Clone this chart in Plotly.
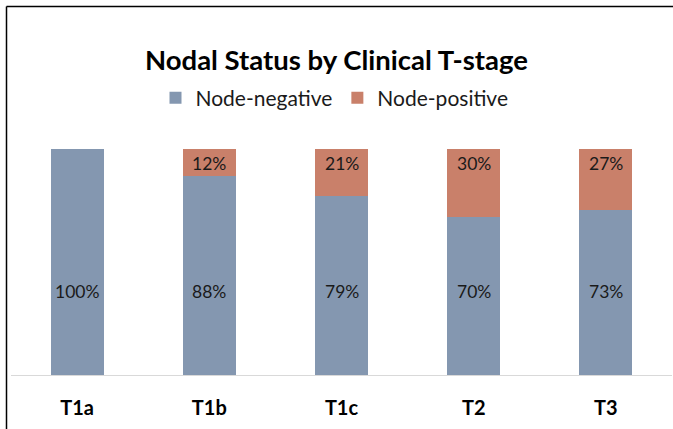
import plotly.graph_objects as go

categories = ["T1a", "T1b", "T1c", "T2", "T3"]
node_negative = [100, 88, 79, 70, 73]
node_positive = [0, 12, 21, 30, 27]

neg_color = "#8497B0"
pos_color = "#C9806A"
FONT = "Lato"

W, H = 673, 429
ml, mr, mt, mb = 11, 1, 149, 54
pw = W - ml - mr
ph = H - mt - mb

fig = go.Figure()
fig.add_trace(go.Bar(
    name="Node-negative", x=categories, y=node_negative,
    marker=dict(color=neg_color, line=dict(width=0)),
    hoverinfo="skip",
))
fig.add_trace(go.Bar(
    name="Node-positive", x=categories, y=node_positive,
    marker=dict(color=pos_color, line=dict(width=0)),
    hoverinfo="skip",
))

# data labels
for c, v in zip(categories, node_negative):
    fig.add_annotation(x=c, y=37, text=f"{v}%", showarrow=False,
                       font=dict(family=FONT, size=17.5, color="#1a1a1a"))
for c, v in zip(categories, node_positive):
    if v > 0:
        fig.add_annotation(x=c, y=100, yshift=-14, text=f"{v}%", showarrow=False,
                           font=dict(family=FONT, size=17.5, color="#1a1a1a"))

def px_x(p):
    return (p - ml) / pw

def px_y(p):
    return (H - mb - p) / ph

# outer border (left and top)
fig.add_shape(type="line", xref="paper", yref="paper",
              x0=px_x(6.5), x1=px_x(6.5), y0=px_y(6.5), y1=px_y(H + 5),
              line=dict(color="#000000", width=1.5))
fig.add_shape(type="line", xref="paper", yref="paper",
              x0=px_x(6.5), x1=px_x(W + 5), y0=px_y(6.5), y1=px_y(6.5),
              line=dict(color="#000000", width=1.5))

fig.update_layout(
    width=W, height=H,
    barmode="stack", bargap=0.6,
    margin=dict(l=ml, r=mr, t=mt, b=mb),
    paper_bgcolor="white", plot_bgcolor="white",
    title=dict(text="<b>Nodal Status by Clinical T-stage</b>",
               x=0.5, xanchor="center", y=1 - 60 / H, yanchor="middle",
               font=dict(family=FONT, size=27.5, color="#000000")),
    legend=dict(orientation="h", x=0.5 - 7 / pw, xanchor="center",
                y=px_y(98), yanchor="middle",
                font=dict(family=FONT, size=21, color="#1a1a1a"),
                itemwidth=30, traceorder="normal"),
    showlegend=True,
    xaxis=dict(showline=True, linecolor="#D9D9D9", linewidth=1,
               ticks="", showgrid=False, ticklabelstandoff=15,
               tickfont=dict(family=FONT, size=20, color="#000000"),
               tickprefix="<b>", ticksuffix="</b>"),
    yaxis=dict(range=[0, 100], visible=False, showgrid=False),
)

fig.write_html("out.html", config={"displayModeBar": False},
               post_script="document.body.style.margin='0';"
                           "document.body.style.overflow='hidden';")
